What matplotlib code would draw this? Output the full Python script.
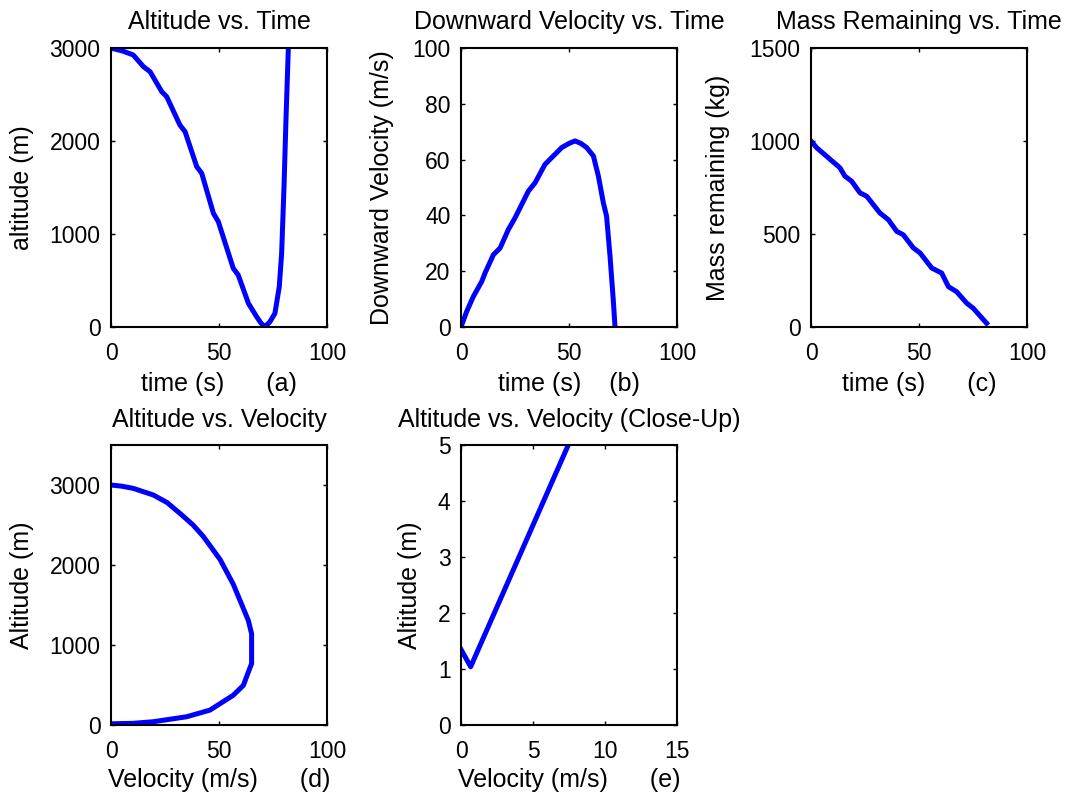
import matplotlib
matplotlib.use("Agg")
import matplotlib.pyplot as plt

plt.rcParams['font.family'] = ['Liberation Sans', 'DejaVu Sans']

# ---- data ----
# (a) Altitude vs Time
alt_t = [0, 5.7, 10.3, 15.0, 18.1, 23.5, 25.8, 31.9, 34.3, 39.7, 42.0, 47.4, 49.7,
         56.6, 58.9, 63.6, 67.4, 69.5, 70.8, 72.3, 73.6, 75.9, 77.9, 79.0, 80.1, 81.0, 82.1, 82.4]
alt_h = [3000, 2965, 2925, 2800, 2745, 2530, 2476, 2172, 2100, 1724, 1653, 1223, 1132,
         631, 559, 255, 111, 40, 10, 25, 57, 147, 433, 792, 1509, 2226, 2997, 3300]

# (b) Downward velocity vs Time
vel_t = [0, 2.6, 5.7, 9.6, 11.1, 15.0, 18.1, 21.9, 25.0, 31.2, 34.3, 38.9, 44.3, 46.6,
         50.0, 52.8, 55.5, 58.2, 61.3, 63.6, 65.9, 67.4, 69.0, 70.5, 71.3, 71.8]
vel_v = [0, 5.5, 10.9, 16.3, 19.3, 25.9, 28.3, 34.9, 39.1, 48.7, 51.7, 58.3, 62.5, 64.3,
         65.8, 66.7, 65.8, 64.3, 61.3, 54.1, 44.5, 39.7, 25.3, 9.7, 0, -8]

# (c) Mass remaining vs Time
mass_t = [0, 2.6, 13.4, 15.7, 18.8, 22.7, 25.8, 31.9, 35.8, 39.7, 42.7, 47.4, 50.5,
          55.9, 60.5, 63.6, 67.4, 72.1, 75.1, 81.3]
mass_m = [1000, 964, 856, 811, 784, 721, 703, 613, 577, 514, 496, 425, 398,
          317, 290, 217, 190, 128, 101, 20]

# (d) Altitude vs Velocity
av_v = [0, 5, 10.3, 19.6, 26, 32.7, 38, 42.7, 50.5, 56.6, 60, 63.6, 65.1, 65.1,
        63, 61.3, 56.6, 45.8, 35, 19.6, 10.3, 0]
av_h = [3000, 2985, 2958, 2875, 2780, 2627, 2500, 2358, 2069, 1760, 1540, 1305, 1140, 768,
        620, 496, 372, 186, 103, 41, 21, 15]

# (e) Altitude vs Velocity close-up
cu_v = [0, 0.67, 7.45, 8.5]
cu_h = [1.35, 1.04, 5.0, 5.6]

W, H = 1065, 795
fig = plt.figure(figsize=(W / 100, H / 100), dpi=100)

def axes_px(left, top, right, bottom):
    return fig.add_axes([left / W, (H - bottom) / H, (right - left) / W, (bottom - top) / H])

TICK = 16.5
LAB = 18
TIT = 18
BLUE = (0, 0, 1)

def style(ax, xlim, ylim, xt, yt):
    ax.set_xlim(*xlim)
    ax.set_ylim(*ylim)
    ax.set_xticks(xt)
    ax.set_yticks(yt)
    ax.tick_params(direction='in', top=True, right=True, length=3, width=1,
                   labelsize=TICK, colors='black')
    ax.tick_params(axis='x', pad=11)
    ax.tick_params(axis='y', pad=7.5)
    for s in ax.spines.values():
        s.set_linewidth(1.5)
        s.set_color('black')

def labels(ax, title, xl, yl, ylx, xly, tty):
    ax.set_title(title, fontsize=TIT, y=tty, pad=0)
    ax.set_xlabel(xl, fontsize=LAB, va='baseline')
    ax.xaxis.set_label_coords(0.5, xly)
    ax.set_ylabel(yl, fontsize=LAB, va='center')
    ax.yaxis.set_label_coords(ylx, 0.5)

# row 1
axA = axes_px(111, 48, 327, 327)
axA.plot(alt_t, alt_h, color=BLUE, lw=3.6, solid_joinstyle='round')
style(axA, (0, 100), (0, 3000), [0, 50, 100], [0, 1000, 2000, 3000])
labels(axA, 'Altitude vs. Time', 'time (s)      (a)', 'altitude (m)', -0.412, -0.229, 1.067)

axB = axes_px(461, 48, 677, 327)
axB.plot(vel_t, vel_v, color=BLUE, lw=3.6, solid_joinstyle='round')
style(axB, (0, 100), (0, 100), [0, 50, 100], [0, 20, 40, 60, 80, 100])
labels(axB, 'Downward Velocity vs. Time', 'time (s)    (b)', 'Downward Velocity (m/s)', -0.366, -0.229, 1.067)

axC = axes_px(811, 48, 1027, 327)
axC.plot(mass_t, mass_m, color=BLUE, lw=3.6, solid_joinstyle='round')
style(axC, (0, 100), (0, 1500), [0, 50, 100], [0, 500, 1000, 1500])
labels(axC, 'Mass Remaining vs. Time', 'time (s)      (c)', 'Mass remaining (kg)', -0.431, -0.229, 1.067)

# row 2
axD = axes_px(111, 445, 327, 725)
axD.plot(av_v, av_h, color=BLUE, lw=3.6, solid_joinstyle='round')
style(axD, (0, 100), (0, 3500), [0, 50, 100], [0, 1000, 2000, 3000])
labels(axD, 'Altitude vs. Velocity', 'Velocity (m/s)      (d)', 'Altitude (m)', -0.412, -0.220, 1.066)

axE = axes_px(461, 445, 677, 725)
axE.plot(cu_v, cu_h, color=BLUE, lw=3.6, solid_joinstyle='round')
style(axE, (0, 15), (0, 5), [0, 5, 10, 15], [0, 1, 2, 3, 4, 5])
labels(axE, 'Altitude vs. Velocity (Close-Up)', 'Velocity (m/s)      (e)', 'Altitude (m)', -0.236, -0.220, 1.066)

fig.savefig('out.png', dpi=100, facecolor='white')
